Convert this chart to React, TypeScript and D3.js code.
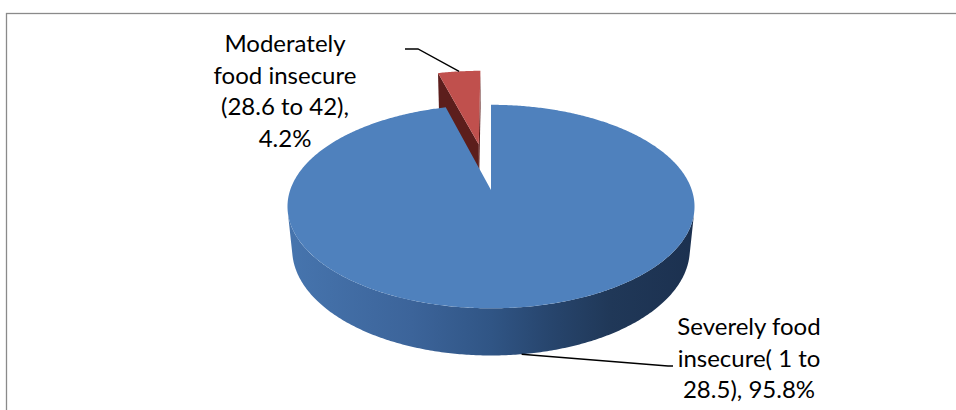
import React from 'react';
import * as d3 from 'd3';

// ---- data ----
const categories = ['Severely food insecure( 1 to 28.5)', 'Moderately food insecure (28.6 to 42)'];
const values = [95.8, 4.2];
const labelLines = [
  ['Severely food', 'insecure( 1 to', '28.5), 95.8%'],
  ['Moderately', 'food insecure', '(28.6 to 42),', '4.2%'],
];
const explodeAmount = [0, 0.5];
const topColors = ['#4f81bd', '#c0504d'];
const cutColors = ['#27446c', '#5c1e1c'];

// ---- layout ----
const W = 956;
const H = 410;
const cx = 491;
const cy = 190;
const alpha = (29.56 * Math.PI) / 180;
const D = Math.cos(alpha) / 0.1626;
const F = 200.8 * D;
const T = 0.248;
const labelPos = [
  { x: 749, y: 335, lineH: 31.5, leaderEnd: [668, 366], leaderText: [673, 366] },
  { x: 285, y: 52, lineH: 31.5, leaderEnd: [418, 49], leaderText: [405, 49] },
];

function proj(X: number, Y: number, Z: number): [number, number] {
  const depth = D - Y * Math.cos(alpha) - Z * Math.sin(alpha);
  return [cx + (F * X) / depth, cy + (F * (Y * Math.sin(alpha) - Z * Math.cos(alpha))) / depth];
}

export default function App() {
  const pie = d3.pie<number>().sort(null).startAngle(0).endAngle(2 * Math.PI);
  const arcs = pie(values);
  const line = d3.line().curve(d3.curveLinearClosed);

  const pt = (i: number, theta: number, r: number, Z: number) => {
    const a = arcs[i];
    const mid = (a.startAngle + a.endAngle) / 2;
    const ex = explodeAmount[i] * Math.sin(mid);
    const ey = -explodeAmount[i] * Math.cos(mid);
    return proj(r * Math.sin(theta) + ex, -r * Math.cos(theta) + ey, Z);
  };
  const arcPts = (i: number, t0: number, t1: number, Z: number) => {
    const n = Math.max(2, Math.ceil(Math.abs(t1 - t0) / 0.01));
    const out: [number, number][] = [];
    for (let k = 0; k <= n; k++) out.push(pt(i, t0 + ((t1 - t0) * k) / n, 1, Z));
    return out;
  };

  const thetaMin = Math.acos(-1 / (D * Math.cos(alpha)));
  const thetaMax = 2 * Math.PI - thetaMin;
  const leftX = proj(Math.sin(thetaMax), -Math.cos(thetaMax), -T)[0];
  const rightX = proj(Math.sin(thetaMin), -Math.cos(thetaMin), -T)[0];

  // draw order: far slices first (exploded one behind)
  const order = d3.range(arcs.length).sort((a, b) => explodeAmount[b] - explodeAmount[a]);

  const shapes: React.ReactNode[] = [];
  order.forEach((i) => {
    const a = arcs[i];
    const mid = (a.startAngle + a.endAngle) / 2;
    const ex = explodeAmount[i] * Math.sin(mid);
    const ey = -explodeAmount[i] * Math.cos(mid);
    const cam = [0, D * Math.cos(alpha)];
    // radial faces
    [a.startAngle, a.endAngle].forEach((th, j) => {
      const tx = Math.cos(th), ty = Math.sin(th);
      const nx = j === 0 ? -tx : tx;
      const ny = j === 0 ? -ty : ty;
      const dot = nx * (cam[0] - ex) + ny * (cam[1] - ey);
      if (dot > 0.05) {
        const poly = [pt(i, th, 0, 0), pt(i, th, 1, 0), pt(i, th, 1, -T), pt(i, th, 0, -T)];
        shapes.push(<path key={`r${i}-${j}`} d={line(poly) || ''} fill={cutColors[i]} />);
      }
    });
    // curved side (only for non-exploded slices whose front is visible)
    if (explodeAmount[i] === 0) {
      const t1 = Math.max(a.startAngle, thetaMin);
      const t2 = Math.min(a.endAngle, thetaMax);
      if (t2 > t1) {
        const poly = [...arcPts(i, t1, t2, 0), ...arcPts(i, t2, t1, -T)];
        shapes.push(<path key={`s${i}`} d={line(poly) || ''} fill={`url(#side${i})`} />);
      }
    }
    // top face
    const topPoly = [pt(i, 0, 0, 0), ...arcPts(i, a.startAngle, a.endAngle, 0)];
    shapes.push(<path key={`t${i}`} d={line(topPoly) || ''} fill={topColors[i]} />);
  });

  // leaders & labels
  const leaders = arcs.map((a, i) => {
    const mid = (a.startAngle + a.endAngle) / 2;
    const anchor = explodeAmount[i] === 0 ? pt(i, mid, 1, -T) : pt(i, mid, 1, 0);
    const lp = labelPos[i];
    return (
      <polyline
        key={`l${i}`}
        points={[anchor, lp.leaderEnd, lp.leaderText].map((p) => p.join(',')).join(' ')}
        fill="none"
        stroke="#000"
        strokeWidth={1.3}
      />
    );
  });

  return (
    <svg
      width={W}
      height={H}
      style={{ position: 'absolute', left: 0, top: 0, background: '#fff' }}
      fontFamily="Lato, 'Open Sans', sans-serif"
    >
      <defs>
        <linearGradient id="side0" gradientUnits="userSpaceOnUse" x1={leftX} x2={rightX} y1={0} y2={0}>
          <stop offset="0" stopColor="#4674ad" />
          <stop offset="0.3" stopColor="#3c649a" />
          <stop offset="0.5" stopColor="#305585" />
          <stop offset="0.65" stopColor="#27456d" />
          <stop offset="0.8" stopColor="#203858" />
          <stop offset="1" stopColor="#1c3150" />
        </linearGradient>
      </defs>
      <rect x={6.5} y={13.5} width={1000} height={600} fill="#fff" stroke="#8a8a8a" strokeWidth={1.3} />
      {shapes}
      {leaders}
      {labelLines.map((lines, i) => (
        <text key={`t${i}`} textAnchor="middle" fontSize={24} fill="#000">
          {lines.map((s, k) => (
            <tspan key={k} x={labelPos[i].x} y={labelPos[i].y + k * labelPos[i].lineH}>
              {s}
            </tspan>
          ))}
        </text>
      ))}
    </svg>
  );
}
